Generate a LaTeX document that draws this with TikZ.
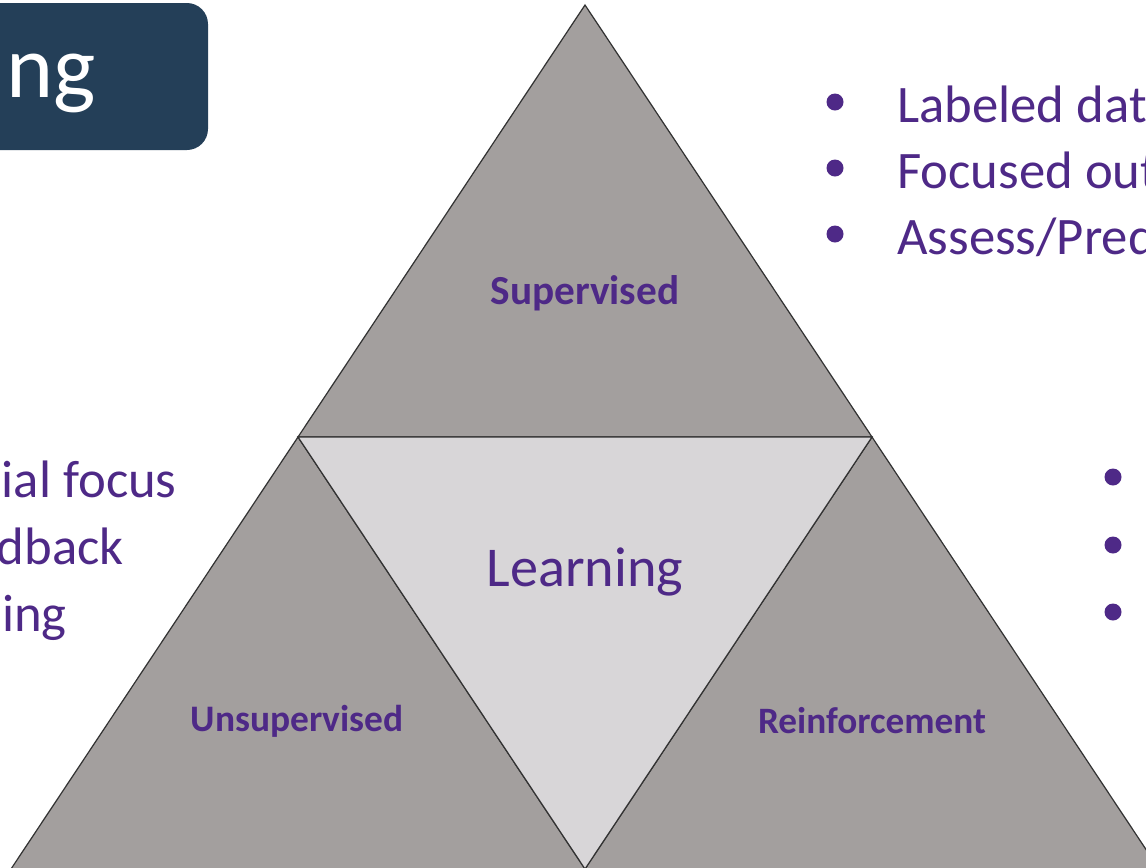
\documentclass[tikz,border=0pt]{standalone}
\usepackage{fontspec}
\setmainfont{Carlito}
\definecolor{txtpurple}{RGB}{78,41,135}
\definecolor{boxblue}{RGB}{36,63,88}
\definecolor{tridark}{RGB}{163,159,158}
\definecolor{trilight}{RGB}{216,214,216}
\begin{document}
\begin{tikzpicture}[x=0.02cm,y=-0.02cm]
    \tikzstyle{every node}+=[inner sep=0pt, text=txtpurple]
    \tikzstyle{tri}=[draw=black!80, line width=0.7pt, line join=miter]
    \useasboundingbox (0,0) rectangle (1146,867);
    \clip (0,0) rectangle (1146,867);
    % title box
    \fill [boxblue, rounded corners=12pt] (-100,3) rectangle (208,150);
    \node [anchor=base east, text=white, font=\fontsize{51}{60}\selectfont] (title) at (96,97) {ng};
    % triangles
    \coordinate (top) at (585,5);
    \coordinate (ml) at (298,437);
    \coordinate (mr) at (872,437);
    \coordinate (bl) at (11,869);
    \coordinate (bm) at (585,869);
    \coordinate (br) at (1159,869);
    \draw [tri, fill=tridark] (top) -- (mr) -- (ml) -- cycle;
    \draw [tri, fill=tridark] (ml) -- (bm) -- (bl) -- cycle;
    \draw [tri, fill=tridark] (mr) -- (br) -- (bm) -- cycle;
    \draw [tri, fill=trilight] (ml) -- (mr) -- (bm) -- cycle;
    \node [font=\fontsize{23.5}{28}\selectfont\bfseries] (sup) at (585,293) {Supervised};
    \node [font=\fontsize{32}{38}\selectfont] (learn) at (585,572) {Learning};
    \node [font=\fontsize{21.3}{25}\selectfont\bfseries] (unsup) at (297,721) {Unsupervised};
    \node [font=\fontsize{21.2}{25}\selectfont\bfseries] (reinf) at (872,721) {Reinforcement};
    % left text
    \node [anchor=base east, font=\fontsize{30}{36}\selectfont] (l1) at (177,497) {ial focus};
    \node [anchor=base east, font=\fontsize{30}{36}\selectfont] (l2) at (124,564) {dback};
    \node [anchor=base east, font=\fontsize{30}{36}\selectfont] (l3) at (67,631) {ing};
    % right top bullets
    \foreach \y/\t [count=\i] in {122/{Labeled data}, 188/{Focused outcome}, 254/{Assess/Predict}}{
        \fill [txtpurple] (835,\y-20) circle (8.5);
        \node [anchor=base west, font=\fontsize{30}{36}\selectfont] (r\i) at (897,\y) {\t};
    }
    % right lower bullets
    \foreach \y in {477,545,612}
        \fill [txtpurple] (1113,\y) circle (8.5);
\end{tikzpicture}
\end{document}
